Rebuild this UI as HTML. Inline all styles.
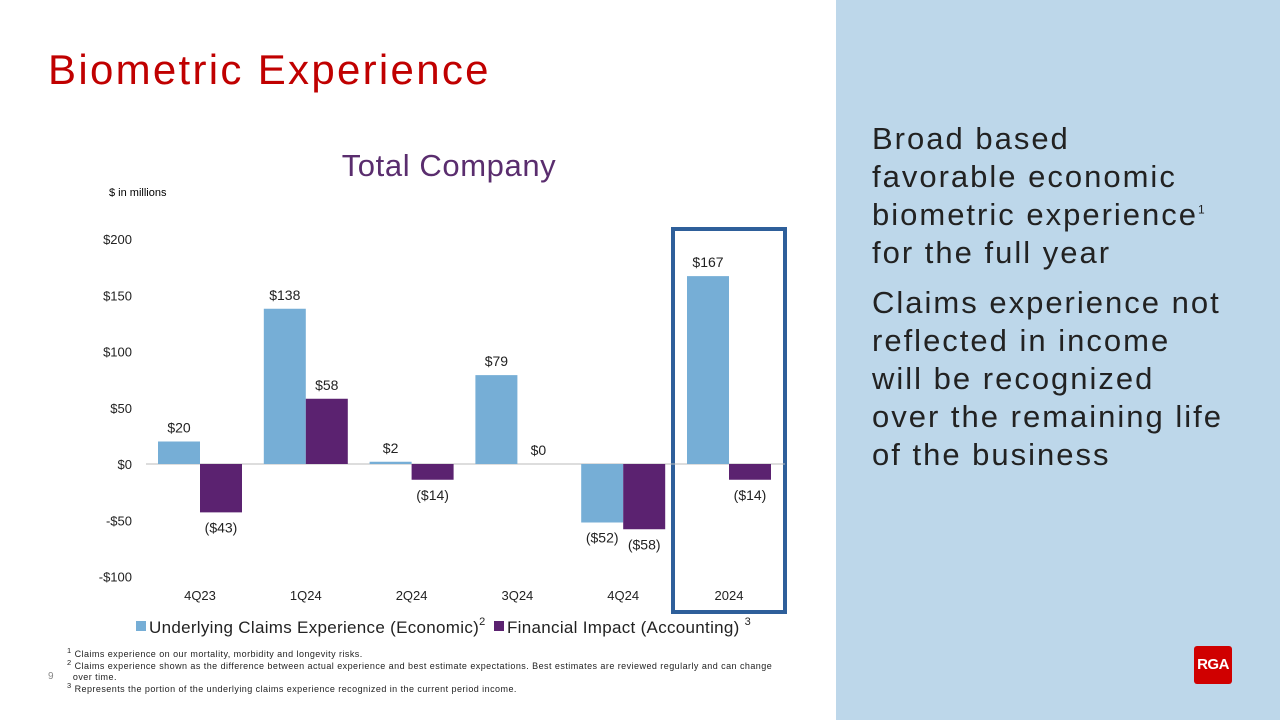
<!DOCTYPE html>
<html><head><meta charset="utf-8"><style>
body{margin:0;width:1280px;height:720px;background:#fff;font-family:"Liberation Sans",sans-serif;position:relative;overflow:hidden}
.abs{position:absolute}
sup{line-height:0}
</style></head><body>
<div class="abs" style="left:48px;top:46px;font-size:42px;letter-spacing:2.3px;color:#c00000">Biometric Experience</div>
<div class="abs" style="left:836px;top:0;width:444px;height:720px;background:#bdd7ea"></div>
<div class="abs" style="left:872px;top:120px;white-space:nowrap;font-size:31px;line-height:38px;letter-spacing:2px;color:#222">
<div style="margin-bottom:12px">Broad based<br>favorable economic<br>biometric experience<sup style="font-size:12px">1</sup><br>for the full year</div>
<div>Claims experience not<br>reflected in income<br>will be recognized<br>over the remaining life<br>of the business</div></div>
<div class="abs" style="left:1194px;top:646px;width:38px;height:38px;background:#d00000;border-radius:3px;color:#fff;font-weight:bold;font-size:15px;line-height:38px;text-align:center;letter-spacing:-0.5px">RGA</div>
<div class="abs" style="left:48px;top:671px;font-size:10px;color:#888">9</div>
<div class="abs" style="left:67px;top:649px;font-size:9px;line-height:11.5px;letter-spacing:0.45px;color:#222;width:780px">
<div><sup>1</sup> Claims experience on our mortality, morbidity and longevity risks.</div>
<div><sup>2</sup> Claims experience shown as the difference between actual experience and best estimate expectations. Best estimates are reviewed regularly and can change<br>&nbsp;&nbsp;over time.</div>
<div><sup>3</sup> Represents the portion of the underlying claims experience recognized in the current period income.</div></div>
<svg class="abs" style="left:0;top:0" width="836" height="720" id="chart">
<text x="449" y="176" text-anchor="middle" font-size="31" letter-spacing="0.6" fill="#5a2d6e">Total Company</text>
<text x="109" y="196" font-size="11" fill="#000">$ in millions</text>
<rect x="673" y="229" width="112" height="383" fill="none" stroke="#2e5f9a" stroke-width="4"/>
<g id="g"></g>
<rect x="136" y="621" width="10" height="10" fill="#76aed6"/>
<text x="149" y="633" font-size="17" letter-spacing="0.3" fill="#222">Underlying Claims Experience (Economic)<tspan dy="-8" font-size="11">2</tspan></text>
<rect x="494" y="621" width="10" height="10" fill="#5b2270"/>
<text x="507" y="633" font-size="17" letter-spacing="0.3" fill="#222">Financial Impact (Accounting) <tspan dy="-8" font-size="11">3</tspan></text>
</svg>
<script>
const categories=["4Q23","1Q24","2Q24","3Q24","4Q24","2024"];
const economic=[20,138,2,79,-52,167];
const accounting=[-43,58,-14,0,-58,-14];
const ticks=[200,150,100,50,0,-50,-100];
const g=document.getElementById('g');
const NS='http://www.w3.org/2000/svg';
const y=v=>464-v*1.125;
const cx=i=>200+i*105.8;
const fmt=v=>v<0?'($'+(-v)+')':'$'+v;
function el(t,a){const e=document.createElementNS(NS,t);for(const k in a)e.setAttribute(k,a[k]);g.appendChild(e);return e;}
ticks.forEach(t=>{const e=el('text',{x:132,y:y(t)+5,'text-anchor':'end','font-size':13,fill:'#222'});e.textContent=t<0?'-$'+(-t):'$'+t;

});
const ax=el('line',{x1:146,x2:785,y1:y(0),y2:y(0),stroke:'#bbb'});


categories.forEach((c,i)=>{
 const t=el('text',{x:cx(i),y:600,'text-anchor':'middle','font-size':13,fill:'#222'});t.textContent=c;
 
 
 [[economic[i],'#76aed6',cx(i)-42,'bar-economic'],[accounting[i],'#5b2270',cx(i),'bar-accounting']].forEach(([v,col,x,n])=>{
  const r=el('rect',{x:x,y:Math.min(y(v),y(0)),width:42,height:Math.abs(y(v)-y(0)),fill:col});
  
  
  const ly=v>=0?y(v)-9:y(v)+20;
  const l=el('text',{x:x+21,y:ly,'text-anchor':'middle','font-size':14,fill:'#222'});l.textContent=fmt(v);
  
  
 });
});
</script>
</body></html>
